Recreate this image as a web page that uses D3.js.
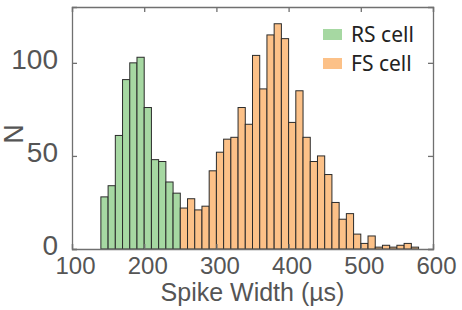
<!doctype html>
<html>
<head>
<meta charset="utf-8">
<title>Spike width histogram</title>
<script src="https://d3js.org/d3.v7.min.js"></script>
<style>
    body { margin: 0; background: #fff; }
    .frame path, .frame line { stroke: #707070; stroke-width: 1.3; }
    .tick-x text { font: 24px "Liberation Sans", Arial, sans-serif; fill: #555; }
    .tick-y text { font: 28px "Liberation Sans", Arial, sans-serif; fill: #555; }
    .label { font: 25px "Liberation Sans", Arial, sans-serif; fill: #555; }
    .legend-text { font: 21px "Noto Sans", sans-serif; fill: #222; }
</style>
</head>
<body>
<div id="chart"></div>
<script>

// histogram bins, 10 us wide
const rsBins = [100, 110, 120, 130, 140, 150, 160, 170, 180, 190, 200, 210, 220, 230, 240];
const rsCounts = [0, 0, 0, 0, 28, 34, 61, 91, 100, 103, 76, 48, 47, 36, 30];

const fsBins = [250, 260, 270, 280, 290, 300, 310, 320, 330, 340, 350, 360, 370, 380, 390,
                400, 410, 420, 430, 440, 450, 460, 470, 480, 490, 500, 510, 520, 530, 540,
                550, 560, 570, 580, 590];
const fsCounts = [22, 27, 21, 23, 42, 52, 59, 60, 76, 67, 104, 86, 115, 121, 113,
                  68, 85, 60, 47, 50, 40, 25, 16, 19, 8, 3, 7, 1, 2, 1,
                  2, 3, 1, 0, 0];

const binWidth = 10;
const xTicks = [100, 200, 300, 400, 500, 600];
const yTicks = [0, 50, 100];

const series = [
    { name: "RS cell", color: "#a6d8a2", bins: rsBins, counts: rsCounts },
    { name: "FS cell", color: "#fcc188", bins: fsBins, counts: fsCounts }
];

const w = 462;
const h = 310;
const margin = { top: 7, right: 29, bottom: 61, left: 72 };

const svg = d3.select("#chart")
    .append("svg")
    .attr("width", w)
    .attr("height", h);

const xScale = d3.scaleLinear()
    .domain([100, 600])
    .range([margin.left, w - margin.right]);

const yScale = d3.scaleLinear()
    .domain([0, 130])
    .range([h - margin.bottom, margin.top]);

// bars
series.forEach(function (s) {
    svg.append("g")
        .selectAll("rect")
        .data(s.bins.map(function (b, i) { return { x0: b, n: s.counts[i] }; }))
        .enter()
        .append("rect")
        .attr("x", function (d) { return xScale(d.x0); })
        .attr("width", function (d) { return xScale(d.x0 + binWidth) - xScale(d.x0); })
        .attr("y", function (d) { return yScale(d.n); })
        .attr("height", function (d) { return yScale(0) - yScale(d.n); })
        .attr("fill", s.color)
        .attr("stroke", "#2b2b2b")
        .attr("stroke-width", 1);
});

// frame with inward ticks
const xAxis = d3.axisBottom(xScale).tickValues(xTicks).tickSize(-5).tickPadding(8);
const yAxis = d3.axisLeft(yScale).tickValues(yTicks).tickSize(-5).tickPadding(14);

const gx = svg.append("g")
    .attr("class", "frame tick-x")
    .attr("transform", "translate(0," + yScale(0) + ")")
    .call(xAxis);
gx.selectAll("text").attr("dx", 3);

const gy = svg.append("g")
    .attr("class", "frame tick-y")
    .attr("transform", "translate(" + margin.left + ",0)")
    .call(yAxis);
gy.selectAll("text").attr("dy", "0.2em");

svg.append("g")
    .attr("class", "frame")
    .attr("transform", "translate(0," + margin.top + ")")
    .call(d3.axisTop(xScale).tickValues(xTicks).tickSize(-5).tickFormat(""));

svg.append("g")
    .attr("class", "frame")
    .attr("transform", "translate(" + (w - margin.right) + ",0)")
    .call(d3.axisRight(yScale).tickValues(yTicks).tickSize(-5).tickFormat(""));

svg.selectAll(".frame .domain").attr("fill", "none");

// axis titles
svg.append("text")
    .attr("class", "label")
    .attr("text-anchor", "middle")
    .attr("x", (margin.left + w - margin.right) / 2)
    .attr("y", 301)
    .text("Spike Width (\u00b5s)");

svg.append("text")
    .attr("class", "label")
    .attr("text-anchor", "middle")
    .attr("transform", "translate(23,134) rotate(-90)")
    .style("font-size", "27px")
    .text("N");

// legend
const legend = svg.append("g").attr("transform", "translate(323,29)");
series.forEach(function (s, i) {
    const row = legend.append("g").attr("transform", "translate(0," + (i * 29) + ")");
    row.append("rect")
        .attr("width", 19)
        .attr("height", 11)
        .attr("fill", s.color);
    row.append("text")
        .attr("class", "legend-text")
        .attr("x", 28)
        .attr("y", 13)
        .text(s.name);
});

</script>
</body>
</html>
